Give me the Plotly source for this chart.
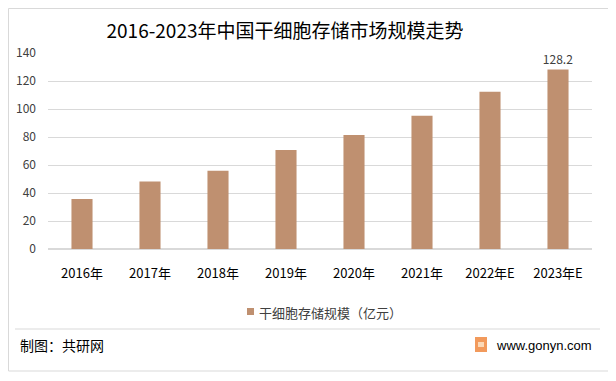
import plotly.graph_objects as go

categories = ["2016年", "2017年", "2018年", "2019年", "2020年", "2021年", "2022年E", "2023年E"]
values = [35.8, 48.2, 55.9, 70.8, 81.5, 95.2, 112.3, 128.2]
labels = ["", "", "", "", "", "", "", "128.2"]
series_name = "干细胞存储规模（亿元）"
title_text = "2016-2023年中国干细胞存储市场规模走势"
y_ticks = [0, 20, 40, 60, 80, 100, 120, 140]

# page has an 8px body margin, so the figure is 8px smaller than the window
W, H = 608, 373
L, T, PW, PH = 40, 45, 544, 196
font = "Noto Sans CJK SC, sans-serif"
latin = "Liberation Sans, Arial, sans-serif"


def px(x):
    return (x - L) / PW


def py(y):
    return (T + PH - y) / PH


fig = go.Figure()
fig.add_trace(go.Bar(
    x=categories, y=values, name=series_name,
    marker=dict(color="#BF9070", line=dict(width=0)),
    width=0.31,
    text=labels, textposition="outside", constraintext="none",
    textfont=dict(size=12, color="#404040", family=font),
    cliponaxis=False, showlegend=False,
))

fig.update_layout(
    width=W, height=H,
    margin=dict(l=L, r=W - L - PW, t=T, b=H - T - PH, autoexpand=False),
    paper_bgcolor="white", plot_bgcolor="white",
    font=dict(family=font, color="#404040"),
    showlegend=False,
    title=dict(text=title_text, x=277 / W, xanchor="center", y=1 - 23 / H, yanchor="middle",
               font=dict(size=19, color="#000000", family=font)),
    xaxis=dict(type="category", showgrid=False, showline=False, ticks="",
               tickfont=dict(size=13, color="#000000", family=font), ticklabelstandoff=15),
    yaxis=dict(range=[0, 140], tickvals=y_ticks, showgrid=True, gridcolor="#D9D9D9",
               gridwidth=1, zeroline=True, zerolinecolor="#D9D9D9", showline=False,
               tickfont=dict(size=12, color="#404040", family=font), ticklabelstandoff=11),
)

# outer frame
fig.add_shape(type="rect", xref="paper", yref="paper",
              x0=px(0.5), x1=px(602), y0=py(363), y1=py(0.5),
              line=dict(color="#D9D9D9", width=1), fillcolor="rgba(0,0,0,0)", layer="below")
# separator line
fig.add_shape(type="line", xref="paper", yref="paper",
              x0=px(7), x1=px(592), y0=py(321), y1=py(321),
              line=dict(color="#D9D9D9", width=1))
# legend marker + text
fig.add_shape(type="rect", xref="paper", yref="paper",
              x0=px(239), x1=px(246), y0=py(307), y1=py(300),
              line=dict(width=0), fillcolor="#BF9070")
fig.add_annotation(text=series_name, xref="paper", yref="paper",
                   x=px(249), xanchor="left", y=py(304), yanchor="middle",
                   showarrow=False, font=dict(size=13, color="#404040", family=font))
# logo icon
fig.add_shape(type="rect", xref="paper", yref="paper",
              x0=px(467), x1=px(479), y0=py(344), y1=py(329),
              line=dict(width=0), fillcolor="#F29A5C")
fig.add_shape(type="rect", xref="paper", yref="paper",
              x0=px(470), x1=px(476), y0=py(339), y1=py(334),
              line=dict(width=0), fillcolor="#FBD9B8")

fig.add_annotation(text="制图：共研网", xref="paper", yref="paper",
                   x=px(10), xanchor="left", y=py(337), yanchor="middle",
                   showarrow=False, font=dict(size=14, color="#000000", family=font))
fig.add_annotation(text="www.gonyn.com", xref="paper", yref="paper",
                   x=px(486), xanchor="left", y=py(337), yanchor="middle",
                   showarrow=False, font=dict(size=13, color="#000000", family=latin))

fig.write_html("out.html")
